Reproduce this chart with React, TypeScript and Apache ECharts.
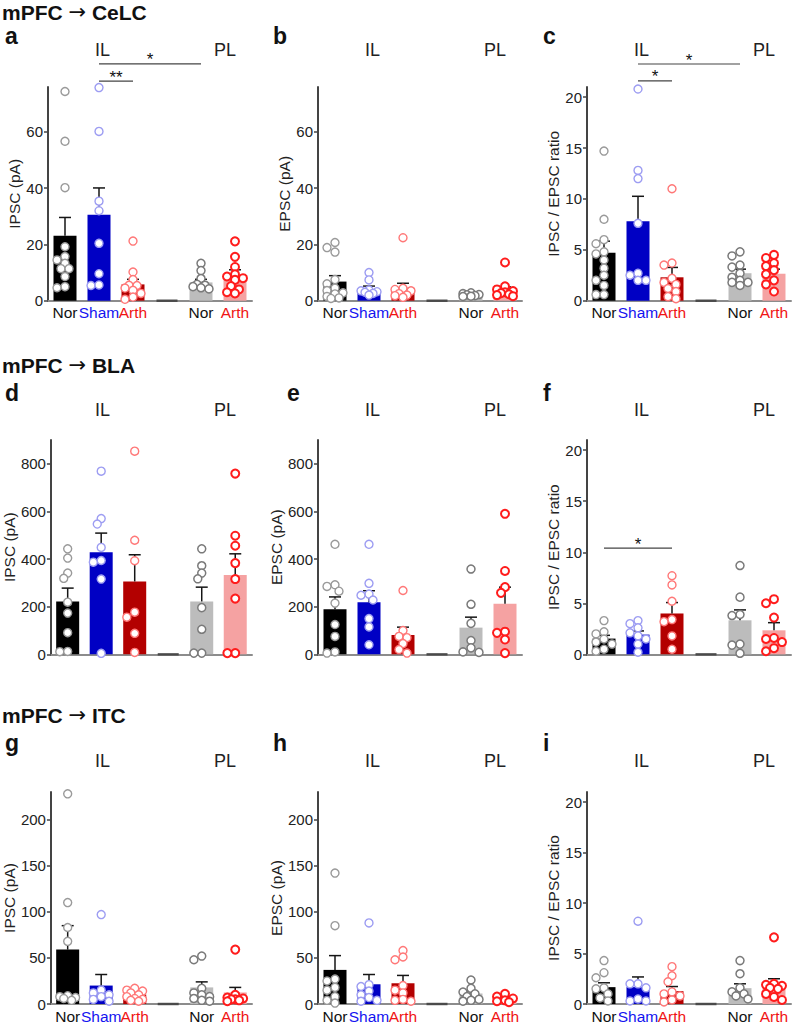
import React, { useEffect, useRef } from 'react';
import * as echarts from 'echarts';

const FONT = '"Liberation Sans", Arial, Helvetica, sans-serif';

// ---------- categories ----------
const categories = ['Nor', 'Sham', 'Arth', '', 'Nor', 'Arth'];
const groupSlots = [0, 1, 2, 4, 5]; // IL Nor, IL Sham, IL Arth, PL Nor, PL Arth
const headerFrom = 'mPFC';
const headerTo = ['CeLC', 'BLA', 'ITC'];

// ---------- tick labels ----------
const ticksPA1 = [0, 20, 40, 60];
const ticksPA2 = [0, 200, 400, 600, 800];
const ticksPA3 = [0, 50, 100, 150, 200];
const ticksRatio = [0, 5, 10, 15, 20];

// ---------- panel a : IPSC CeLC ----------
const aMeans = [23.1, 30.6, 5.8, 6.5, 8.8];
const aSems = [6.5, 9.5, 1.8, 1.1, 2.2];
const aNor = [74.4, 56.7, 40.2, 19.2, 15.7, 14.5, 13.3, 11.4, 11.4, 8.6, 5.0, 4.6];
const aSham = [75.8, 60.2, 35.4, 32.0, 20.4, 9.6, 5.4, 5.6];
const aArth = [21.2, 10.2, 7.5, 5.5, 5.4, 4.5, 3.7, 2.6, 1.3, 0.5];
const aPLNor = [13.3, 10.7, 7.9, 5.8, 5.5, 5.0, 4.6, 4.2];
const aPLArth = [21.1, 15.6, 12.0, 9.4, 8.6, 8.0, 7.4, 5.2, 4.0, 3.0, 2.6];

// ---------- panel b : EPSC CeLC ----------
const bMeans = [6.8, 4.0, 4.6, 2.0, 3.7];
const bSems = [2.1, 1.2, 1.6, 0.6, 1.2];
const bNor = [20.7, 18.9, 17.3, 7.5, 6.0, 4.5, 3.6, 2.8, 2.4, 1.5, 1.0, 0.8];
const bSham = [10.0, 7.4, 3.8, 3.5, 3.2, 3.0, 2.6, 2.0];
const bArth = [22.4, 4.4, 4.0, 3.5, 2.5, 2.0, 1.8, 1.2];
const bPLNor = [2.8, 2.5, 2.2, 2.1, 1.8, 1.6, 1.5];
const bPLArth = [13.6, 5.1, 4.0, 3.4, 3.0, 2.7, 2.3, 2.0, 1.6];

// ---------- panel c : ratio CeLC ----------
const cMeans = [4.7, 7.8, 2.3, 2.7, 2.65];
const cSems = [1.15, 2.46, 0.97, 0.4, 0.45];
const cNor = [14.7, 8.0, 6.0, 5.6, 4.8, 4.6, 4.0, 3.2, 2.5, 2.0, 1.5, 0.6, 0.6];
const cSham = [20.8, 12.8, 12.0, 7.6, 2.7, 2.5, 2.0, 2.0];
const cArth = [11.0, 3.7, 3.5, 2.2, 1.8, 1.6, 1.2, 0.9, 0.4, 0.2];
const cPLNor = [4.8, 4.4, 3.5, 3.3, 2.7, 2.3, 2.0, 1.8, 1.8, 1.5];
const cPLArth = [4.5, 4.2, 3.7, 3.4, 3.0, 2.6, 2.0, 1.6, 0.9];

// ---------- panel d : IPSC BLA ----------
const dMeans = [222, 429, 306, 222, 333];
const dSems = [56, 80, 112, 60, 89];
const dNor = [443, 404, 341, 319, 219, 173, 91, 11, 12];
const dSham = [769, 570, 547, 449, 394, 387, 316, 4];
const dArth = [853, 479, 393, 177, 156, 88, 8];
const dPLNor = [443, 372, 341, 317, 196, 105, 5, 5];
const dPLArth = [759, 498, 456, 383, 316, 234, 5, 5];

// ---------- panel e : EPSC BLA ----------
const eMeans = [189, 219, 81, 112, 212];
const eSems = [52, 48, 33, 44, 70];
const eNor = [462, 292, 285, 265, 215, 125, 75, 10, 5];
const eSham = [462, 298, 253, 248, 228, 150, 115, 40];
const eArth = [268, 100, 75, 70, 45, 20, 5];
const ePLNor = [358, 210, 130, 58, 27, 10, 8];
const ePLArth = [590, 350, 282, 258, 95, 90, 62, 5];

// ---------- panel f : ratio BLA ----------
const fMeans = [1.54, 1.93, 4.0, 3.33, 2.35];
const fSems = [0.32, 0.36, 1.07, 1.02, 0.75];
const fNor = [3.3, 2.2, 2.0, 1.5, 1.2, 1.0, 0.5, 0.3];
const fSham = [3.3, 3.0, 2.6, 2.1, 1.8, 1.5, 1.0, 0.2];
const fArth = [7.7, 6.8, 5.2, 3.4, 3.2, 1.8, 0.5];
const fPLNor = [8.7, 5.6, 3.9, 3.8, 1.0, 0.9, 0.1];
const fPLArth = [5.4, 5.0, 3.6, 1.6, 1.5, 1.2, 0.6, 0.3];

// ---------- panel g : IPSC ITC ----------
const gMeans = [59, 20, 10.4, 18, 12.5];
const gSems = [26, 12, 2.1, 6, 5.5];
const gNor = [228, 110, 83, 68, 9, 8, 7, 6, 4];
const gSham = [97, 15, 12, 10, 8, 5, 3];
const gArth = [17, 15, 14, 12, 10, 8, 6, 5, 4, 3];
const gPLNor = [52, 48, 17, 12, 10, 8, 6, 4, 3];
const gPLArth = [59, 10, 7, 6, 5, 5, 4, 3];

// ---------- panel h : EPSC ITC ----------
const hMeans = [37, 21.4, 22.5, 11.4, 6.0];
const hSems = [15.5, 10.6, 8.5, 2.9, 2.0];
const hNor = [142, 85, 27, 25, 18, 15, 8, 4, 1];
const hSham = [88, 21, 19, 14, 10, 7, 4, 3];
const hArth = [58, 51, 48, 20, 15, 12, 5, 4, 3];
const hPLNor = [26, 17, 13, 11, 8, 5, 4, 3];
const hPLArth = [11, 8, 6, 4, 3, 2];

// ---------- panel i : ratio ITC ----------
const iMeans = [1.67, 1.67, 1.27, 1.57, 1.93];
const iSems = [0.43, 1.01, 0.46, 0.43, 0.57];
const iNor = [4.3, 3.1, 2.6, 1.6, 1.5, 1.0, 0.6, 0.3];
const iSham = [8.2, 2.0, 2.0, 1.6, 0.5, 0.3, 0.3];
const iArth = [3.7, 2.8, 2.2, 1.2, 1.0, 0.8, 0.4, 0.2];
const iPLNor = [4.3, 3.0, 1.6, 1.2, 1.0, 0.8, 0.5];
const iPLArth = [6.6, 2.0, 1.9, 1.8, 1.6, 1.5, 1.0, 0.7, 0.4];

// ---------- significance brackets (category slots, y in data units) ----------
const aSig = [
  { from: 1, to: 4, y: 84.2, text: '*' },
  { from: 1, to: 2, y: 78.1, text: '**' },
];
const cSig = [
  { from: 1, to: 4, y: 23.26, text: '*' },
  { from: 1, to: 2, y: 21.6, text: '*' },
];
const fSig = [{ from: 0, to: 2, y: 10.4, text: '*' }];

// ---------- styles ----------
const barColors = ['#000000', '#0000c4', '#b30000', '#bcbcbc', '#f5a2a2'];
const pointStroke = ['#9a9a9a', '#9d9df2', '#ff7878', '#7a7a7a', '#ff1c1c'];
const pointWidth = [1.4, 1.4, 1.4, 1.5, 2];
const labelColors = ['#111111', '#1414f0', '#f01414', '#111111', '#111111', '#f01414'];

const panels = [
  { letter: 'a', yName: 'IPSC (pA)', yMax: 76, ticks: ticksPA1, means: aMeans, sems: aSems, pts: [aNor, aSham, aArth, aPLNor, aPLArth], sig: aSig },
  { letter: 'b', yName: 'EPSC (pA)', yMax: 76, ticks: ticksPA1, means: bMeans, sems: bSems, pts: [bNor, bSham, bArth, bPLNor, bPLArth], sig: [] },
  { letter: 'c', yName: 'IPSC / EPSC ratio', yMax: 21, ticks: ticksRatio, means: cMeans, sems: cSems, pts: [cNor, cSham, cArth, cPLNor, cPLArth], sig: cSig },
  { letter: 'd', yName: 'IPSC (pA)', yMax: 900, ticks: ticksPA2, means: dMeans, sems: dSems, pts: [dNor, dSham, dArth, dPLNor, dPLArth], sig: [] },
  { letter: 'e', yName: 'EPSC (pA)', yMax: 900, ticks: ticksPA2, means: eMeans, sems: eSems, pts: [eNor, eSham, eArth, ePLNor, ePLArth], sig: [] },
  { letter: 'f', yName: 'IPSC / EPSC ratio', yMax: 21, ticks: ticksRatio, means: fMeans, sems: fSems, pts: [fNor, fSham, fArth, fPLNor, fPLArth], sig: fSig },
  { letter: 'g', yName: 'IPSC (pA)', yMax: 230, ticks: ticksPA3, means: gMeans, sems: gSems, pts: [gNor, gSham, gArth, gPLNor, gPLArth], sig: [] },
  { letter: 'h', yName: 'EPSC (pA)', yMax: 230, ticks: ticksPA3, means: hMeans, sems: hSems, pts: [hNor, hSham, hArth, hPLNor, hPLArth], sig: [] },
  { letter: 'i', yName: 'IPSC / EPSC ratio', yMax: 21, ticks: ticksRatio, means: iMeans, sems: iSems, pts: [iNor, iSham, iArth, iPLNor, iPLArth], sig: [] },
];

// ---------- layout ----------
const colLeft = [48, 318, 587];
const gridW = 204;
const rowTop = [87, 440, 792];
const rowH = [213.7, 214.3, 215];
const headerY = [12, 365, 715];
const letterY = [36, 393, 743];
const letterX = [5, 273, 543, 5, 287, 543, 5, 273, 543];
const ilplY = [50, 410, 761];

function swarm(values: number[], pxPerUnit: number): number[] {
  const D = 6.5;
  const cands = [0, -4, 4, -8, 8];
  const placed: [number, number][] = [];
  const out = new Array(values.length).fill(0);
  const order = values.map((_, i) => i).sort((a, b) => values[b] - values[a]);
  for (const i of order) {
    const y = values[i] * pxPerUnit;
    let bestC = 0;
    let bestD = -1;
    for (const c of cands) {
      let md = Infinity;
      for (const [px, py] of placed) md = Math.min(md, Math.hypot(px - c, py - y));
      if (md >= D) { bestC = c; break; }
      if (md > bestD) { bestD = md; bestC = c; }
    }
    placed.push([bestC, y]);
    out[i] = bestC;
  }
  return out;
}

function buildOption() {
  const grid: any[] = [];
  const xAxis: any[] = [];
  const yAxis: any[] = [];
  const series: any[] = [];
  const graphic: any[] = [];
  const slotPx = gridW / categories.length;

  panels.forEach((p, k) => {
    const row = Math.floor(k / 3);
    const col = k % 3;
    const left = colLeft[col];
    const top = rowTop[row];
    const h = rowH[row];
    grid.push({ left, top, width: gridW, height: h, containLabel: false });
    const catAxis = xAxis.length;
    xAxis.push({
      type: 'category', gridIndex: k, data: categories, boundaryGap: true,
      axisTick: { show: false },
      axisLine: { show: true, onZero: false, lineStyle: { color: '#8c8c8c', width: 2 } },
      axisLabel: {
        show: row !== 1, interval: 0, margin: 4,
        formatter: (v: string, idx: number) => (v ? `{c${idx}|${v}}` : ''),
        rich: Object.fromEntries(labelColors.map((c, i) => [`c${i}`, { color: c, fontSize: 15.5, fontFamily: FONT }])),
      },
    });
    const valAxis = xAxis.length;
    xAxis.push({ type: 'value', gridIndex: k, min: -0.5, max: 5.5, show: false });
    yAxis.push({
      type: 'value', gridIndex: k, min: 0, max: p.yMax,
      name: p.yName, nameLocation: 'middle', nameGap: 23, nameRotate: 90,
      nameTextStyle: { fontSize: 15.5, color: '#222', fontFamily: FONT },
      axisLine: { show: true, onZero: false, lineStyle: { color: '#444', width: 2 } },
      axisTick: { show: true, length: 4, customValues: p.ticks, lineStyle: { color: '#444', width: 1.5 } },
      axisLabel: { customValues: p.ticks, fontSize: 15, color: '#222', margin: 5, fontFamily: FONT },
      splitLine: { show: false },
    });

    // gap marker on baseline
    series.push({
      type: 'scatter', xAxisIndex: valAxis, yAxisIndex: k, silent: true, clip: false,
      symbol: 'rect', symbolSize: [21, 2.5], itemStyle: { color: '#3a3a3a' }, z: 3,
      data: [[3, 0]],
    });

    // bars
    series.push({
      type: 'bar', xAxisIndex: catAxis, yAxisIndex: k, barWidth: 23, silent: true, z: 2,
      data: categories.map((_, slot) => {
        const g = groupSlots.indexOf(slot);
        if (g < 0) return '-';
        return { value: p.means[g], itemStyle: { color: barColors[g] } };
      }),
    });

    // error bars
    series.push({
      type: 'custom', xAxisIndex: catAxis, yAxisIndex: k, silent: true, clip: false, z: 4,
      data: groupSlots.map((s, g) => [s, p.means[g], p.sems[g]]),
      encode: { x: 0, y: 1 },
      renderItem: (_params: any, api: any) => {
        const x = api.value(0);
        const m = api.value(1);
        const s = api.value(2);
        const p0 = api.coord([x, m]);
        const p1 = api.coord([x, m + s]);
        const hw = 6;
        const st = { stroke: '#151515', lineWidth: 1.5 };
        return {
          type: 'group',
          children: [
            { type: 'line', shape: { x1: p0[0], y1: p0[1], x2: p1[0], y2: p1[1] }, style: st },
            { type: 'line', shape: { x1: p1[0] - hw, y1: p1[1], x2: p1[0] + hw, y2: p1[1] }, style: st },
          ],
        };
      },
    });

    // points
    const pxPerUnit = h / p.yMax;
    p.pts.forEach((vals, g) => {
      const offs = swarm(vals, pxPerUnit);
      series.push({
        type: 'scatter', xAxisIndex: valAxis, yAxisIndex: k, silent: true, clip: false, z: 5,
        symbol: 'circle', symbolSize: 8,
        itemStyle: { color: '#ffffff', borderColor: pointStroke[g], borderWidth: pointWidth[g], opacity: 1 },
        data: vals.map((v, i) => [groupSlots[g] + offs[i] / slotPx, v]),
      });
    });

    // significance brackets
    if (p.sig.length) {
      const sig = p.sig;
      series.push({
        type: 'custom', xAxisIndex: catAxis, yAxisIndex: k, silent: true, clip: false, z: 6,
        data: sig.map((b) => [b.from, b.to, b.y]),
        encode: { x: 0, y: 2 },
        renderItem: (params: any, api: any) => {
          const a = api.coord([api.value(0), api.value(2)]);
          const b = api.coord([api.value(1), api.value(2)]);
          return {
            type: 'group',
            children: [
              { type: 'line', shape: { x1: a[0], y1: a[1], x2: b[0], y2: b[1] }, style: { stroke: '#444', lineWidth: 1.2 } },
              {
                type: 'text', x: (a[0] + b[0]) / 2, y: a[1] - 4,
                style: { text: sig[params.dataIndex].text, fill: '#111', font: `17px ${FONT}`, align: 'center', verticalAlign: 'middle' },
              },
            ],
          };
        },
      });
    }

    // panel letter, IL / PL labels
    graphic.push({
      type: 'text', x: letterX[k], y: letterY[row],
      style: { text: p.letter, fill: '#111', font: `bold 23px ${FONT}`, align: 'left', verticalAlign: 'middle' },
    });
    graphic.push({
      type: 'text', x: left + 54.5, y: ilplY[row],
      style: { text: 'IL', fill: '#222', font: `18px ${FONT}`, align: 'center', verticalAlign: 'middle' },
    });
    graphic.push({
      type: 'text', x: left + 177, y: ilplY[row],
      style: { text: 'PL', fill: '#222', font: `18px ${FONT}`, align: 'center', verticalAlign: 'middle' },
    });
  });

  headerTo.forEach((t, r) => {
    graphic.push({
      type: 'text', x: 2, y: headerY[r],
      style: {
        text: `{b|${headerFrom} }{ar|\u2192}{b| ${t}}`,
        align: 'left', verticalAlign: 'middle',
        rich: {
          b: { fontSize: 21, fontWeight: 'bold', fontFamily: FONT, fill: '#111', color: '#111' },
          ar: { fontSize: 21, fontFamily: '"DejaVu Sans", sans-serif', fill: '#111', color: '#111' },
        },
      },
    });
  });

  return {
    animation: false,
    backgroundColor: '#ffffff',
    textStyle: { fontFamily: FONT },
    grid, xAxis, yAxis, series, graphic,
  };
}

export default function App() {
  const ref = useRef<HTMLDivElement>(null);
  useEffect(() => {
    if (!ref.current) return;
    const chart = echarts.init(ref.current, null, { renderer: 'svg' });
    chart.setOption(buildOption() as any);
    return () => chart.dispose();
  }, []);
  return <div ref={ref} style={{ position: 'fixed', left: 0, top: 0, width: 800, height: 1024 }} />;
}
